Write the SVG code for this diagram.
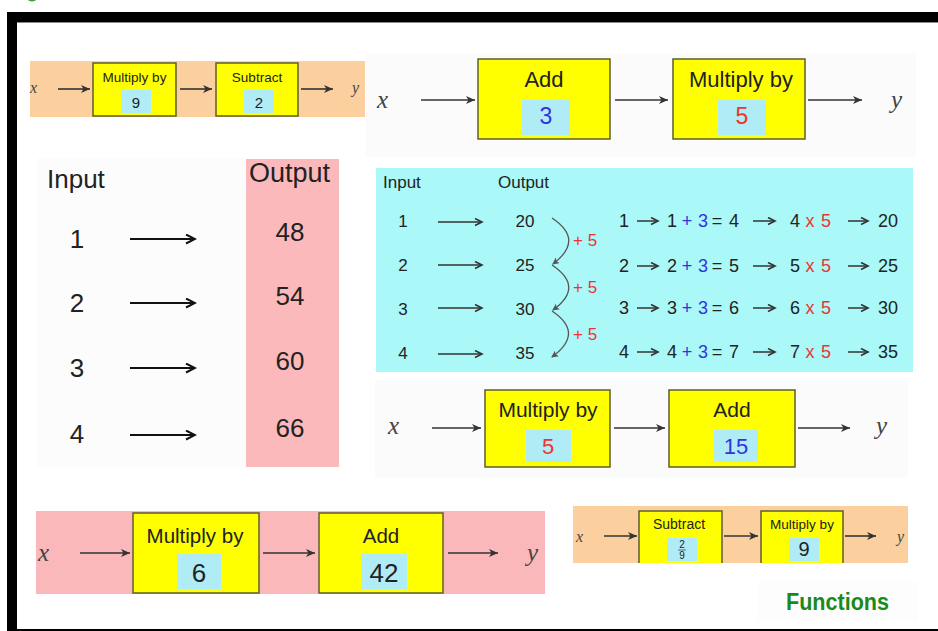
<svg xmlns="http://www.w3.org/2000/svg" width="938" height="631" viewBox="0 0 938 631">
<defs>
<style>
.t{font-family:"Liberation Sans",Arial,sans-serif;fill:#222}
.m{text-anchor:middle}
.v{font-family:"Liberation Serif","Times New Roman",serif;font-style:italic;fill:#444}
.box{fill:#ffff00;stroke:#5e5e2c;stroke-width:1.5}
.val{fill:#b0ecf6}
.ar{stroke:#333;stroke-width:1.6;fill:none}
.ab{stroke:#111;stroke-width:2;fill:none}
.ac{stroke:#333;stroke-width:1.5;fill:none}
.cv{stroke:#555;stroke-width:1.3;fill:none}
.red{fill:#ee3333}
.blue{fill:#3333dd}
</style>
<marker id="ah" markerWidth="10" markerHeight="10" refX="9" refY="4" orient="auto" markerUnits="userSpaceOnUse"><path d="M0,0 L9,4 L0,8 L2.5,4 z" fill="#333"/></marker>
<marker id="ahb" markerWidth="12" markerHeight="12" refX="10" refY="5" orient="auto" markerUnits="userSpaceOnUse"><path d="M1,0.5 L10,5 L1,9.5" fill="none" stroke="#111" stroke-width="2"/></marker>
<marker id="ahc" markerWidth="10" markerHeight="10" refX="8" refY="4" orient="auto" markerUnits="userSpaceOnUse"><path d="M1,0.5 L8,4 L1,7.5" fill="none" stroke="#333" stroke-width="1.6"/></marker>
<marker id="ahv" markerWidth="10" markerHeight="10" refX="6" refY="3.5" orient="auto" markerUnits="userSpaceOnUse"><path d="M0,0 L7,3.5 L0,7 L1.5,3.5 z" fill="#555"/></marker>
</defs>
<rect width="938" height="631" fill="#ffffff"/>
<circle cx="32" cy="-5" r="6.5" fill="#3a9a3a"/>
<g id="frame">
<rect x="7" y="12" width="931" height="10" fill="#000"/>
<rect x="7" y="12" width="10" height="619" fill="#000"/>
<rect x="7" y="629" width="931" height="2" fill="#000"/>
<rect x="17" y="22" width="921" height="1" fill="#888"/>
</g>

<!-- backgrounds -->
<rect x="30" y="61" width="335" height="56" fill="#fbd09e"/>
<rect x="366" y="53" width="550" height="104" fill="#fbfbfb"/>
<rect x="37" y="158" width="210" height="309" fill="#fcfcfc"/>
<rect x="246" y="159" width="93" height="308" fill="#fbb9bb"/>
<rect x="376" y="168" width="537" height="204" fill="#aaf8f8"/>
<rect x="375" y="380" width="533" height="98" fill="#fbfbfb"/>
<rect x="36" y="511" width="509" height="83" fill="#fab8ba"/>
<rect x="573" y="506" width="335" height="57" fill="#fbd09e"/>
<rect x="757" y="582" width="161" height="40" fill="#fdfdfd"/>

<!-- top-left flow -->
<g id="tl-x"><text class="v" x="30" y="93" font-size="16">x</text></g>
<g id="tl-mult">
<rect class="box" x="93" y="63" width="83" height="53"/>
<text class="t m" x="134.5" y="82" font-size="13.5">Multiply by</text>
<rect class="val" x="121" y="90" width="30" height="23"/>
<text class="t m" x="136" y="108" font-size="15">9</text>
</g>
<g id="tl-sub">
<rect class="box" x="216" y="63" width="82" height="53"/>
<text class="t m" x="257" y="82" font-size="13.5">Subtract</text>
<rect class="val" x="244" y="90" width="30" height="23"/>
<text class="t m" x="259" y="108" font-size="15">2</text>
</g>
<g id="tl-y"><text class="v" x="352" y="93" font-size="16">y</text></g>

<!-- top-right flow -->
<g id="tr-x"><text class="v" x="377" y="108" font-size="25">x</text></g>
<g id="tr-add">
<rect class="box" x="478" y="59" width="132" height="80"/>
<text class="t m" x="544" y="87" font-size="22">Add</text>
<rect class="val" x="522" y="100" width="48" height="35"/>
<text class="t m blue" x="546" y="124" font-size="23">3</text>
</g>
<g id="tr-mult">
<rect class="box" x="673" y="59" width="132" height="80"/>
<text class="t m" x="741" y="87" font-size="22">Multiply by</text>
<rect class="val" x="718" y="100" width="48" height="35"/>
<text class="t m red" x="742" y="124" font-size="23">5</text>
</g>
<g id="tr-y"><text class="v" x="891" y="108" font-size="25">y</text></g>

<!-- left table -->
<g id="lt">
<text class="t" x="47" y="188" font-size="26">Input</text>
<text class="t" x="249" y="182" font-size="27">Output</text>
<text class="t m" x="77" y="248" font-size="26">1</text>
<text class="t m" x="77" y="312" font-size="26">2</text>
<text class="t m" x="77" y="377" font-size="26">3</text>
<text class="t m" x="77" y="443" font-size="26">4</text>
<text class="t m" x="290" y="241" font-size="26">48</text>
<text class="t m" x="290" y="305" font-size="26">54</text>
<text class="t m" x="290" y="370" font-size="26">60</text>
<text class="t m" x="290" y="437" font-size="26">66</text>
</g>

<!-- cyan table -->
<g id="ct" font-size="17">
<text class="t" x="383" y="188" font-size="17">Input</text>
<text class="t" x="498" y="188" font-size="17">Output</text>
<text class="t m" x="403" y="227" font-size="17">1</text>
<text class="t m" x="403" y="271" font-size="17">2</text>
<text class="t m" x="403" y="315" font-size="17">3</text>
<text class="t m" x="403" y="359" font-size="17">4</text>
<text class="t m" x="525" y="227" font-size="17">20</text>
<text class="t m" x="525" y="271" font-size="17">25</text>
<text class="t m" x="525" y="315" font-size="17">30</text>
<text class="t m" x="525" y="359" font-size="17">35</text>
<text class="t red" x="573" y="246" font-size="17">+ 5</text>
<text class="t red" x="573" y="293" font-size="17">+ 5</text>
<text class="t red" x="573" y="340" font-size="17">+ 5</text>
</g>
<g id="ct-rows" font-size="18">
<text class="t m" x="624" y="227" font-size="18">1</text>
<text class="t m" x="672" y="227" font-size="18">1</text>
<text class="t m blue" x="687" y="227" font-size="18">+</text>
<text class="t m blue" x="703" y="227" font-size="18">3</text>
<text class="t m" x="717" y="227" font-size="18">=</text>
<text class="t m" x="734" y="227" font-size="18">4</text>
<text class="t m" x="795" y="227" font-size="18">4</text>
<text class="t m red" x="810" y="227" font-size="18">x</text>
<text class="t m red" x="826" y="227" font-size="18">5</text>
<text class="t m" x="888" y="227" font-size="18">20</text>

<text class="t m" x="624" y="272" font-size="18">2</text>
<text class="t m" x="672" y="272" font-size="18">2</text>
<text class="t m blue" x="687" y="272" font-size="18">+</text>
<text class="t m blue" x="703" y="272" font-size="18">3</text>
<text class="t m" x="717" y="272" font-size="18">=</text>
<text class="t m" x="734" y="272" font-size="18">5</text>
<text class="t m" x="795" y="272" font-size="18">5</text>
<text class="t m red" x="810" y="272" font-size="18">x</text>
<text class="t m red" x="826" y="272" font-size="18">5</text>
<text class="t m" x="888" y="272" font-size="18">25</text>

<text class="t m" x="624" y="314" font-size="18">3</text>
<text class="t m" x="672" y="314" font-size="18">3</text>
<text class="t m blue" x="687" y="314" font-size="18">+</text>
<text class="t m blue" x="703" y="314" font-size="18">3</text>
<text class="t m" x="717" y="314" font-size="18">=</text>
<text class="t m" x="734" y="314" font-size="18">6</text>
<text class="t m" x="795" y="314" font-size="18">6</text>
<text class="t m red" x="810" y="314" font-size="18">x</text>
<text class="t m red" x="826" y="314" font-size="18">5</text>
<text class="t m" x="888" y="314" font-size="18">30</text>

<text class="t m" x="624" y="358" font-size="18">4</text>
<text class="t m" x="672" y="358" font-size="18">4</text>
<text class="t m blue" x="687" y="358" font-size="18">+</text>
<text class="t m blue" x="703" y="358" font-size="18">3</text>
<text class="t m" x="717" y="358" font-size="18">=</text>
<text class="t m" x="734" y="358" font-size="18">7</text>
<text class="t m" x="795" y="358" font-size="18">7</text>
<text class="t m red" x="810" y="358" font-size="18">x</text>
<text class="t m red" x="826" y="358" font-size="18">5</text>
<text class="t m" x="888" y="358" font-size="18">35</text>
</g>

<!-- middle-right flow -->
<g id="mr-x"><text class="v" x="388" y="434" font-size="25">x</text></g>
<g id="mr-mult">
<rect class="box" x="485" y="390" width="125" height="77"/>
<text class="t m" x="548" y="417" font-size="21">Multiply by</text>
<rect class="val" x="526" y="430" width="45" height="32"/>
<text class="t m red" x="548" y="454" font-size="22">5</text>
</g>
<g id="mr-add">
<rect class="box" x="669" y="390" width="126" height="77"/>
<text class="t m" x="732" y="417" font-size="21">Add</text>
<rect class="val" x="714" y="430" width="44" height="32"/>
<text class="t m blue" x="736" y="454" font-size="22">15</text>
</g>
<g id="mr-y"><text class="v" x="876" y="434" font-size="25">y</text></g>

<!-- bottom-left flow -->
<g id="bl-x"><text class="v" x="38" y="561" font-size="25">x</text></g>
<g id="bl-mult">
<rect class="box" x="133" y="513" width="126" height="80"/>
<text class="t m" x="195" y="543" font-size="20.5">Multiply by</text>
<rect class="val" x="177" y="554" width="44" height="35"/>
<text class="t m" x="199" y="582" font-size="26">6</text>
</g>
<g id="bl-add">
<rect class="box" x="319" y="513" width="124" height="80"/>
<text class="t m" x="381" y="543" font-size="20.5">Add</text>
<rect class="val" x="361" y="554" width="46" height="35"/>
<text class="t m" x="384" y="582" font-size="26">42</text>
</g>
<g id="bl-y"><text class="v" x="527" y="561" font-size="25">y</text></g>

<!-- bottom-right flow -->
<g id="br-x"><text class="v" x="576" y="542" font-size="16">x</text></g>
<g id="br-sub">
<rect x="639" y="511" width="83" height="52" fill="#ffff00"/>
<path d="M639,563 V511 H722 V563" fill="none" stroke="#5e5e2c" stroke-width="1.5"/>
<text class="t m" x="679" y="529" font-size="14">Subtract</text>
<rect class="val" x="667" y="538" width="30" height="23"/>
<text class="t m" x="682" y="548" font-size="10">2</text>
<line x1="678" y1="550" x2="686" y2="550" stroke="#333" stroke-width="0.7"/>
<text class="t m" x="682" y="559" font-size="10">9</text>
</g>
<g id="br-mult">
<rect x="761" y="511" width="82" height="52" fill="#ffff00"/>
<path d="M761,563 V511 H843 V563" fill="none" stroke="#5e5e2c" stroke-width="1.5"/>
<text class="t m" x="802" y="529" font-size="13.5">Multiply by</text>
<rect class="val" x="789" y="538" width="30" height="23"/>
<text class="t m" x="804" y="556" font-size="20">9</text>
</g>
<g id="br-y"><text class="v" x="897" y="542" font-size="16">y</text></g>

<g id="title"><text x="786" y="610" font-family="'Liberation Sans',Arial,sans-serif" font-weight="bold" font-size="23" fill="#1a8a1a" textLength="103" lengthAdjust="spacingAndGlyphs">Functions</text></g>

<!-- connectors -->
<g id="connectors">
<line class="ar" x1="58" y1="89" x2="90" y2="89" marker-end="url(#ah)"/>
<line class="ar" x1="180" y1="89" x2="212" y2="89" marker-end="url(#ah)"/>
<line class="ar" x1="301" y1="89" x2="333" y2="89" marker-end="url(#ah)"/>

<line class="ar" x1="421" y1="100" x2="475" y2="100" marker-end="url(#ah)"/>
<line class="ar" x1="615" y1="100" x2="668" y2="100" marker-end="url(#ah)"/>
<line class="ar" x1="808" y1="100" x2="862" y2="100" marker-end="url(#ah)"/>

<line class="ab" x1="130" y1="239" x2="195" y2="239" marker-end="url(#ahb)"/>
<line class="ab" x1="130" y1="303" x2="195" y2="303" marker-end="url(#ahb)"/>
<line class="ab" x1="130" y1="368" x2="195" y2="368" marker-end="url(#ahb)"/>
<line class="ab" x1="130" y1="435" x2="195" y2="435" marker-end="url(#ahb)"/>

<line class="ac" x1="438" y1="222" x2="482" y2="222" marker-end="url(#ahc)"/>
<line class="ac" x1="438" y1="265" x2="482" y2="265" marker-end="url(#ahc)"/>
<line class="ac" x1="438" y1="308" x2="482" y2="308" marker-end="url(#ahc)"/>
<line class="ac" x1="438" y1="354" x2="482" y2="354" marker-end="url(#ahc)"/>

<path class="cv" d="M552,218 Q585,240 553,264" marker-end="url(#ahv)"/>
<path class="cv" d="M552,265 Q585,287 553,310" marker-end="url(#ahv)"/>
<path class="cv" d="M552,311 Q585,333 552,357" marker-end="url(#ahv)"/>

<line class="ac" x1="637" y1="221" x2="658" y2="221" marker-end="url(#ahc)"/>
<line class="ac" x1="753" y1="221" x2="775" y2="221" marker-end="url(#ahc)"/>
<line class="ac" x1="848" y1="221" x2="868" y2="221" marker-end="url(#ahc)"/>
<line class="ac" x1="637" y1="266" x2="658" y2="266" marker-end="url(#ahc)"/>
<line class="ac" x1="753" y1="266" x2="775" y2="266" marker-end="url(#ahc)"/>
<line class="ac" x1="848" y1="266" x2="868" y2="266" marker-end="url(#ahc)"/>
<line class="ac" x1="637" y1="308" x2="658" y2="308" marker-end="url(#ahc)"/>
<line class="ac" x1="753" y1="308" x2="775" y2="308" marker-end="url(#ahc)"/>
<line class="ac" x1="848" y1="308" x2="868" y2="308" marker-end="url(#ahc)"/>
<line class="ac" x1="637" y1="352" x2="658" y2="352" marker-end="url(#ahc)"/>
<line class="ac" x1="753" y1="352" x2="775" y2="352" marker-end="url(#ahc)"/>
<line class="ac" x1="848" y1="352" x2="868" y2="352" marker-end="url(#ahc)"/>

<line class="ar" x1="432" y1="428" x2="481" y2="428" marker-end="url(#ah)"/>
<line class="ar" x1="614" y1="428" x2="665" y2="428" marker-end="url(#ah)"/>
<line class="ar" x1="798" y1="428" x2="850" y2="428" marker-end="url(#ah)"/>

<line class="ar" x1="80" y1="553" x2="130" y2="553" marker-end="url(#ah)"/>
<line class="ar" x1="263" y1="553" x2="315" y2="553" marker-end="url(#ah)"/>
<line class="ar" x1="448" y1="553" x2="498" y2="553" marker-end="url(#ah)"/>

<line class="ar" x1="604" y1="536" x2="637" y2="536" marker-end="url(#ah)"/>
<line class="ar" x1="724" y1="536" x2="758" y2="536" marker-end="url(#ah)"/>
<line class="ar" x1="845" y1="536" x2="876" y2="536" marker-end="url(#ah)"/>
</g>
</svg>
